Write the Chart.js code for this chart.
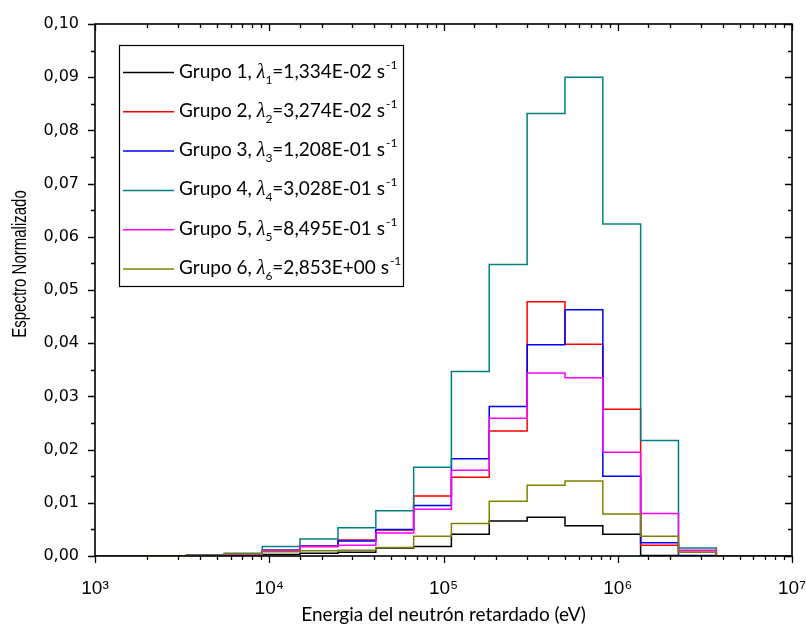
<!DOCTYPE html>
<html>
<head>
<meta charset="utf-8">
<script src="https://cdn.jsdelivr.net/npm/chart.js@4.4.0/dist/chart.umd.min.js"></script>
<style>
  html, body { margin: 0; padding: 0; background: #fff; }
  #wrap { width: 806px; height: 626px; }
</style>
</head>
<body>
<div id="wrap"><canvas id="spectrum" width="806" height="626"></canvas></div>
<script>
// energy bin edges (eV), lethargy width 0.5
const edges = [1e3, 2.03e3, 3.35e3, 5.53e3, 9.12e3, 1.50e4, 2.48e4, 4.09e4, 6.74e4, 1.11e5,
  1.83e5, 3.02e5, 4.98e5, 8.21e5, 1.353e6, 2.231e6, 3.679e6, 1e7]

// normalized spectrum per bin (17 bins between the edges above)
const grupo1 = [0.00002, 0.00004, 0.0001, 0.0002, 0.0003, 0.0005, 0.0007, 0.0015, 0.0018, 0.0041,
  0.0066, 0.0073, 0.0057, 0.0041, 0.0001, 0.0000, 0]
const grupo2 = [0.00002, 0.00005, 0.0001, 0.0003, 0.0011, 0.0018, 0.0030, 0.0049, 0.0113, 0.0148,
  0.0235, 0.0478, 0.0398, 0.0276, 0.0020, 0.0007, 0]
const grupo3 = [0.00002, 0.00005, 0.0001, 0.0004, 0.0011, 0.0019, 0.0028, 0.0050, 0.0095, 0.0183,
  0.0281, 0.0397, 0.0463, 0.0150, 0.0025, 0.0001, 0]
const grupo4 = [0.00003, 0.00006, 0.0002, 0.0005, 0.0018, 0.0032, 0.0053, 0.0085, 0.0167, 0.0347,
  0.0548, 0.0832, 0.0900, 0.0624, 0.0217, 0.0015, 0]
const grupo5 = [0.00002, 0.00005, 0.0001, 0.0003, 0.0010, 0.0018, 0.0020, 0.0043, 0.0088, 0.0161,
  0.0259, 0.0344, 0.0335, 0.0195, 0.0080, 0.0011, 0]
const grupo6 = [0.00002, 0.00004, 0.0001, 0.0004, 0.0008, 0.0010, 0.0011, 0.0016, 0.0037, 0.0061,
  0.0103, 0.0133, 0.0141, 0.0079, 0.0037, 0.0007, 0]

const groups = [grupo1, grupo2, grupo3, grupo4, grupo5, grupo6]
const groupLabels = ['Grupo 1', 'Grupo 2', 'Grupo 3', 'Grupo 4', 'Grupo 5', 'Grupo 6']
const lambdas = ['1,334E-02', '3,274E-02', '1,208E-01', '3,028E-01', '8,495E-01', '2,853E+00']
const colors = ['#000000', '#ff0000', '#0000ff', '#008080', '#ff00ff', '#808000']

const decadeLabels = { 1e3: '10³', 1e4: '10⁴', 1e5: '10⁵', 1e6: '10⁶', 1e7: '10⁷' }
const yTicks = [0, 0.01, 0.02, 0.03, 0.04, 0.05, 0.06, 0.07, 0.08, 0.09, 0.1]

const isDecade = (v) => {
  const l = Math.log10(v)
  return Math.abs(l - Math.round(l)) < 1e-9
}

// step histogram: each bin value starts at its lower edge, last edge closes the line
const toSteps = (vals) => edges.map((e, i) => ({ x: e, y: i < vals.length ? vals[i] : vals[vals.length - 1] }))

// frame, inward/outward ticks, y title and the legend box
const decorations = {
  id: 'decorations',
  afterDraw(chart) {
    const { ctx, chartArea: { left, right, top, bottom }, scales: { x, y } } = chart
    ctx.save()
    ctx.strokeStyle = '#000'
    ctx.lineWidth = 1.6
    ctx.strokeRect(left, top, right - left, bottom - top)

    ctx.lineWidth = 1.3
    ctx.beginPath()
    x.ticks.forEach((t) => {
      const px = Math.round(x.getPixelForValue(t.value)) + 0.5
      const len = isDecade(t.value) ? 7 : 4
      ctx.moveTo(px, bottom); ctx.lineTo(px, bottom + len)
      ctx.moveTo(px, top); ctx.lineTo(px, top + len)
    })
    for (let i = 0; i < yTicks.length; i++) {
      const py = Math.round(y.getPixelForValue(yTicks[i])) + 0.5
      ctx.moveTo(left, py); ctx.lineTo(left - 7, py)
      ctx.moveTo(right, py); ctx.lineTo(right - 7, py)
      if (i < yTicks.length - 1) {
        const pm = Math.round(y.getPixelForValue((yTicks[i] + yTicks[i + 1]) / 2)) + 0.5
        ctx.moveTo(left, pm); ctx.lineTo(left - 4, pm)
        ctx.moveTo(right, pm); ctx.lineTo(right - 4, pm)
      }
    }
    ctx.stroke()

    // y axis title, glyphs drawn a bit taller across the axis
    ctx.save()
    ctx.translate(21, 264)
    ctx.rotate(-Math.PI / 2)
    ctx.scale(1, 1.3)
    ctx.fillStyle = '#000'
    ctx.font = '15px "Liberation Sans"'
    ctx.textAlign = 'center'
    ctx.textBaseline = 'middle'
    ctx.fillText('Espectro Normalizado', 0, 0)
    ctx.restore()

    // legend
    const box = { l: 119.5, t: 45.5, r: 403.5, b: 286.5 }
    ctx.fillStyle = '#fff'
    ctx.fillRect(box.l, box.t, box.r - box.l, box.b - box.t)
    ctx.lineWidth = 1.2
    ctx.strokeRect(box.l, box.t, box.r - box.l, box.b - box.t)
    ctx.textAlign = 'left'
    ctx.textBaseline = 'alphabetic'
    const mainFont = '19px Lato'
    const smallFont = '12px Lato'
    groups.forEach((g, i) => {
      const rowY = 72.5 + i * 39.3
      ctx.strokeStyle = colors[i]
      ctx.lineWidth = 1.5
      ctx.beginPath()
      ctx.moveTo(123, rowY); ctx.lineTo(174, rowY)
      ctx.stroke()
      ctx.fillStyle = '#000'
      const base = rowY + 5
      let tx = 179
      ctx.font = mainFont
      ctx.fillText(groupLabels[i] + ', ', tx, base)
      tx += ctx.measureText(groupLabels[i] + ', ').width
      ctx.font = 'italic 20px "Liberation Serif"'
      ctx.fillText('λ', tx, base)
      tx += ctx.measureText('λ').width
      ctx.font = smallFont
      ctx.fillText(String(i + 1), tx, base + 6)
      tx += ctx.measureText(String(i + 1)).width
      ctx.font = mainFont
      const tail = '=' + lambdas[i] + ' s'
      ctx.fillText(tail, tx, base)
      tx += ctx.measureText(tail).width + 1
      ctx.font = smallFont
      ctx.fillText('-1', tx, base - 9)
    })
    ctx.restore()
  }
}

new Chart(document.getElementById('spectrum'), {
  type: 'line',
  data: {
    datasets: groups.map((g, i) => ({
      label: groupLabels[i],
      data: toSteps(g),
      borderColor: colors[i],
      backgroundColor: colors[i],
      borderWidth: 1.5,
      pointRadius: 0,
      stepped: 'before',
      fill: false,
      order: groups.length - i,
    })),
  },
  options: {
    responsive: false,
    animation: false,
    layout: { padding: { top: 24, right: 14, left: 0, bottom: 0 } },
    plugins: {
      legend: { display: false },
      tooltip: { enabled: false },
    },
    scales: {
      x: {
        type: 'logarithmic',
        min: 1e3,
        max: 1e7,
        afterFit: (scale) => {
          scale.height = 70
          scale.paddingLeft = 0
          scale.paddingRight = 0
        },
        grid: { display: false, drawTicks: false },
        border: { display: false },
        ticks: {
          autoSkip: false,
          maxRotation: 0,
          padding: 21,
          color: '#000',
          font: { family: '"Liberation Sans"', size: 19 },
          callback: (v) => decadeLabels[v] || '',
        },
        title: {
          display: true,
          text: 'Energia del neutrón retardado (eV)',
          color: '#000',
          font: { family: 'Lato', size: 19 },
          padding: { top: 0, bottom: 0 },
        },
      },
      y: {
        min: 0,
        max: 0.1,
        afterFit: (scale) => {
          scale.width = 95
          scale.paddingTop = 0
          scale.paddingBottom = 0
        },
        grid: { display: false, drawTicks: false },
        border: { display: false },
        ticks: {
          stepSize: 0.01,
          padding: 16,
          color: '#000',
          font: { family: '"DejaVu Sans"', size: 16 },
          callback: (v) => v.toFixed(2).replace('.', ','),
        },
      },
    },
  },
  plugins: [decorations],
})
</script>
</body>
</html>
